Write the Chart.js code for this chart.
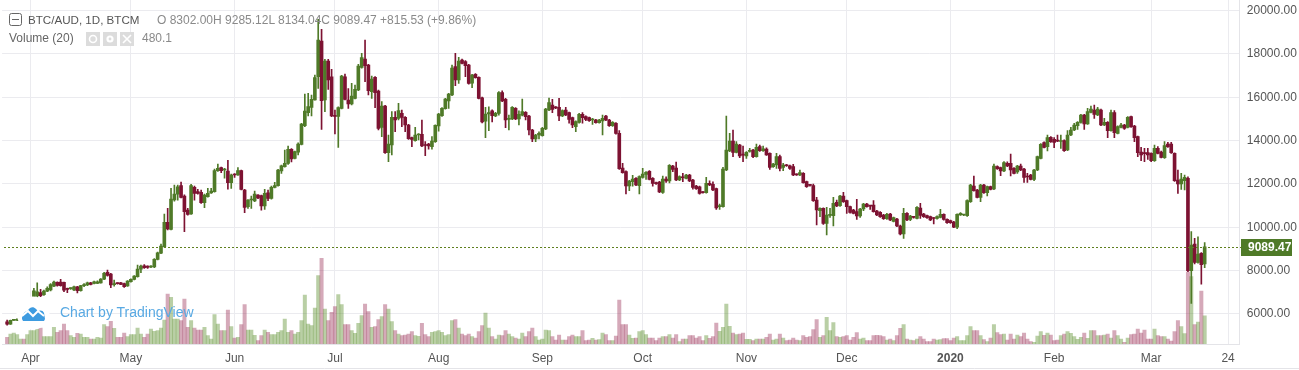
<!DOCTYPE html>
<html><head><meta charset="utf-8">
<script src="https://cdn.jsdelivr.net/npm/chart.js@4"></script>
<style>
html,body{margin:0;padding:0;background:#fff;overflow:hidden}
#wrap{position:relative;width:1299px;height:370px;font-family:"Liberation Sans",Arial,sans-serif;font-size:12px}
canvas{position:absolute;left:0;top:0}
.t{position:absolute;white-space:nowrap;line-height:14px}
</style></head><body>
<div id="wrap"><canvas id="c" width="1299" height="370"></canvas>
<svg style="position:absolute;left:9px;top:13px" width="13" height="13"><rect x="0.5" y="0.5" width="12" height="12" rx="2" fill="#fff" stroke="#666"/><path d="M3 6.5h7" stroke="#666"/></svg>
<div class="t" style="left:28px;top:13px;color:#555;font-size:11.6px">BTC/AUD, 1D, BTCM</div>
<div class="t" style="left:157px;top:13px;color:#8a8a8a" id="ohlc"></div>
<div class="t" style="left:9px;top:31px;color:#666">Volume (20)</div>
<svg style="position:absolute;left:86px;top:32px" width="48" height="14"><g fill="#dcdcdc"><rect width="14" height="14"/><rect x="17" width="14" height="14"/><rect x="34" width="14" height="14"/></g><circle cx="7" cy="7" r="3.5" fill="none" stroke="#fff" stroke-width="1.6"/><circle cx="24" cy="7" r="3.6" fill="#fff"/><circle cx="24" cy="7" r="1.4" fill="#dcdcdc"/><path d="M37 3l8 8M45 3l-8 8" stroke="#fff" stroke-width="1.6"/></svg>
<div class="t" style="left:142px;top:31px;color:#8a8a8a" id="volv"></div>
<svg style="position:absolute;left:16px;top:296px" width="34" height="34"><circle cx="17" cy="17" r="16.5" fill="#fff"/><path d="M6 23c0-4 2-7 5-8l3-3c2-1 4-1 6 1l2 2c2-1 5-1 6 2l1 6-1 2H7z" fill="#3d9be0"/><path d="M6 20l6-5 5 5 5-5 6 5" fill="none" stroke="#fff" stroke-width="2"/></svg>
<div class="t" style="left:60px;top:305px;color:#58a9e3;font-size:14px">Chart by TradingView</div>
</div>
<script>
const firstDay = '2019-03-24';
const dayCount = 370;
const tickDates = ['2019-04-01','2019-05-01','2019-06-01','2019-07-01','2019-08-01','2019-09-01','2019-10-01','2019-11-01','2019-12-01','2020-01-01','2020-02-01','2020-03-01','2020-03-24'];
const tickLabels = ['Apr','May','Jun','Jul','Aug','Sep','Oct','Nov','Dec','2020','Feb','Mar','24'];
const priceTicks = [6000,8000,10000,12000,14000,16000,18000,20000];
const opens = [5634,5526,5695,5700,5740,5800,5780,5830,5870,6820,6975,6880,7050,7100,7280,7450,7460,7450,7170,7160,7100,7250,7065,7300,7330,7430,7400,7400,7430,7600,7920,7830,7350,7400,7430,7400,7290,7480,7590,7710,8065,8210,8200,8160,8160,8515,8800,9100,10220,9900,11255,11530,11920,11440,10790,10610,11840,11640,11610,11130,11410,11580,11640,12610,12750,12640,12595,12056,12440,12410,12610,11717,10947,11255,11210,11486,11455,10980,11590,11330,11840,11920,12600,12795,12950,13596,13180,13460,13827,14690,15290,15530,15875,16950,18600,15875,17677,16950,15167,15120,15490,16950,15875,15690,15950,16340,17380,17770,17490,16260,16920,16290,14612,15598,13442,13795,15074,15028,15260,15074,14720,14135,14000,14257,14290,13795,13842,13720,13950,14675,15150,15475,15830,16105,17415,16800,17723,17650,17490,16650,17060,16920,15980,14900,15230,15380,15137,15260,16214,15906,14980,15000,15490,15000,15170,15305,15136,14489,14073,14258,14230,14540,15413,15644,15536,15536,15136,15413,15290,15059,14643,14843,15213,15105,15059,14950,14950,14828,14905,15136,14950,14690,14800,14335,12733,12564,11902,12100,12256,11918,12300,12440,12580,12256,12025,12087,11610,12225,12133,12826,12733,12179,12290,12256,12410,12179,11900,11870,11610,11600,12025,11980,11780,10947,10950,12640,13519,13980,13457,13796,13340,13290,13500,13565,13257,13719,13534,13611,13411,12795,12872,13257,12764,12872,12840,12795,12440,12410,12487,12102,11933,11917,11255,10762,10870,10177,10546,10531,11147,10993,11440,11224,10947,10793,10716,10516,10839,11070,10978,11024,10747,10685,10562,10393,10608,10269,10377,10054,9684,10639,10362,10454,10408,10885,10608,10531,10485,10408,10400,10454,10593,10362,10300,10238,10007,10563,10563,10531,11178,11902,11717,11378,11948,11594,11871,11763,12795,12749,12595,12949,12949,12718,12549,12826,12687,12333,12410,12210,12641,13180,13904,13719,14150,14058,13980,13960,13996,13565,14258,14489,14690,14843,15182,14766,15305,15413,15182,15413,14720,14843,14458,15290,14335,14612,14720,14612,15105,14674,14181,13473,13411,13442,13411,13072,13642,13473,13211,13842,13842,13411,12179,11994,12148,12256,7990,9222,8375,8791,8302];
const closes = [5526,5695,5700,5740,5800,5780,5830,5870,7065,7020,6835,7050,7175,7345,7470,7310,7300,7095,7130,7170,7250,7065,7300,7330,7430,7360,7480,7480,7600,7870,7770,7330,7400,7395,7360,7250,7510,7590,7740,8065,8200,8130,8140,8200,8515,8820,9130,10220,9915,11300,11530,11870,11380,10716,10590,11917,11560,11560,11130,11486,11560,11670,12610,12720,12610,12640,12056,12410,12410,12610,11748,10916,11255,11280,11530,11350,10980,11560,11330,11840,11920,12640,12830,12950,13596,13150,13490,13840,14766,15367,15567,15906,16907,18647,15840,17677,16800,15136,15120,15520,16984,15906,15690,16060,16368,17446,17830,17460,16306,16845,16214,14566,15598,13442,13842,15074,14950,15382,15074,14720,14088,14057,14257,14290,13750,13775,13750,13980,14700,15228,15490,15921,16150,17353,16800,17677,17570,17460,16645,17030,16907,15950,14860,15228,15290,15150,15260,16214,15830,14951,15000,15536,15000,15213,15336,15105,14489,14073,14258,14335,14566,15459,15752,15444,15510,15136,15382,15182,14982,14720,14874,15213,15059,14982,14920,14950,14828,14950,15028,14950,14690,14843,14335,12703,12518,11902,12133,12225,11948,12333,12456,12533,12210,12025,12010,11625,12225,12133,12857,12672,12179,12333,12285,12410,12133,11840,11780,11561,11600,12025,11948,11717,10885,10950,12687,13565,13980,13457,13842,13288,13330,13457,13520,13257,13690,13534,13620,13334,12764,12918,13257,12718,12872,12840,12718,12410,12420,12518,12056,11871,11930,11224,10793,10870,10177,10562,10550,11101,10978,11440,11178,10947,10685,10639,10516,10839,11070,10947,10970,10716,10562,10485,10393,10593,10331,10439,10054,9684,10639,10331,10516,10450,10916,10546,10485,10439,10331,10400,10485,10593,10362,10208,10208,10007,10593,10639,10570,11224,11948,11686,11378,11948,11594,11871,11748,12826,12703,12595,12980,12826,12641,12487,12826,12641,12302,12320,12210,12641,13257,13827,13688,14135,13950,13919,13975,13985,13534,14258,14489,14720,14843,15182,14766,15336,15459,15213,15459,14720,14843,14458,15290,14366,14643,14720,14566,15074,14643,14135,13442,13334,13400,13334,13072,13642,13411,13226,13765,13719,13442,12148,11994,12225,12302,7990,9176,8375,8760,8273.94,9089.47];
const highs = [5711,5711,5715,5780,5830,5830,5860,5900,7175,7435,7130,7090,7250,7400,7510,7480,7590,7470,7190,7200,7280,7270,7320,7400,7470,7450,7510,7520,7630,7915,8020,7870,7560,7430,7450,7420,7530,7620,7770,8250,8250,8270,8220,8230,8550,8850,9220,10610,10870,11790,11950,11950,12087,11490,10870,11980,11900,11750,11720,11530,11790,11790,12690,12920,12780,12720,13088,12450,12480,12750,12640,11750,11280,11440,11670,11510,11480,11750,11720,11900,12070,12670,12870,13565,13750,13630,13520,13900,14800,16152,16183,16100,17030,19600,19140,17750,17750,17292,15410,15560,17020,17076,16400,16640,16570,17520,18030,18647,17520,16980,16960,16330,15800,15630,14260,15340,15340,15720,15410,15110,14750,14160,14610,14320,14950,13950,13870,14180,14730,15260,15530,15950,16180,17490,18031,17850,17760,17700,17520,17060,17090,16950,16010,15540,15560,15420,15300,16260,16300,15950,15180,15570,15520,15380,15921,15340,15170,14520,14290,14410,14610,15490,15967,15906,15570,15952,15420,15536,15320,15090,14910,15260,15290,15140,15090,15030,14980,14980,15180,15170,14980,14880,14830,14460,12950,12600,12170,12390,12290,12370,12720,12570,12610,12290,12080,12120,12365,12330,12890,12860,13011,12370,12490,12440,12440,12210,11930,11900,11640,12300,12140,12100,11810,11070,12770,15135,14335,14490,13950,13830,13750,13490,13640,13600,13840,13790,13750,13670,13440,12950,13411,13330,12950,12900,12870,12900,12470,12640,12520,12130,11970,11990,11378,10900,10900,10916,10870,11378,11255,11470,11610,11255,10980,10820,11286,10870,11100,11100,11010,11224,10780,10720,10590,10640,10640,10470,10410,10100,10870,10670,10550,10490,10950,11101,10640,10560,10510,10440,10520,10820,10620,10390,10330,10270,10620,10670,10600,11260,11980,12364,11750,11980,11980,11900,11900,12920,12830,12780,13030,13025,13380,12750,12860,12920,12720,12490,12440,12670,13290,13860,13940,14258,14180,14135,14260,14258,14030,14460,14612,14797,14880,15215,15215,15490,15600,15644,15536,15450,15030,14880,15413,15382,14680,14797,14750,15110,15136,14700,14210,13690,13640,13640,13440,13796,13720,13510,13950,13919,13919,13440,12641,12487,12410,12330,9792,9484,9560,8830,9285.12];
const lows = [5480,5510,5690,5680,5720,5760,5760,5800,5860,6760,6790,6850,7020,7060,7250,7280,7280,7020,6980,7130,7070,6970,7040,7250,7300,7330,7380,7390,7410,7580,7740,7205,7280,7370,7340,7220,7270,7460,7570,7690,7900,8100,8100,8130,8130,8490,8780,9080,9870,9880,11200,11250,11350,9790,10560,10590,11250,11530,11100,10900,11390,11560,11620,12580,12520,12260,11760,11790,12300,12390,11720,10670,10870,10870,11180,11320,10790,10820,11225,11300,11810,11900,12480,12770,12900,13020,13150,13335,13800,14640,15135,15135,15870,16414,14520,15335,16368,15100,14304,13688,15460,15880,15490,15650,15920,16310,17350,16720,16106,15950,15520,14490,14180,13410,13026,13335,14410,14950,14640,14410,14060,13720,13970,14030,13720,13300,13600,13600,13920,14440,15120,15450,15490,16080,16540,16640,17540,16950,16610,16440,16880,15920,14820,14135,14460,14860,15100,15180,15800,14597,14489,14970,14970,14720,15140,14950,14258,13950,13950,14073,14200,14510,15380,15290,15470,14920,15100,15150,14800,14597,14410,14810,14800,14920,14890,14750,14800,14800,14258,14920,14660,14660,14300,12670,12490,11532,11690,11900,11920,11532,12270,12210,12180,11900,11980,11600,11560,12070,12050,12560,12150,12150,12100,12230,12100,11760,11750,11530,11570,11570,11920,11690,10820,10820,10920,12610,13490,13260,13430,13210,13030,13180,13470,13210,13230,13500,13500,13310,12672,12760,12720,12595,12610,12810,12670,12380,12390,12380,12030,11840,11900,11190,10100,10485,10130,9638,10450,10054,10950,10960,11150,10639,10650,10610,10362,10450,10760,10920,10820,10690,10530,10450,10360,10360,10300,10240,10020,9638,9484,10300,10300,10420,10380,10408,10450,10410,10300,10146,10370,10430,10330,10180,10180,9980,9930,10540,10530,10500,11150,11660,11350,11178,11560,11440,11720,11730,12670,12380,12560,12800,12364,12460,12487,12610,12070,12070,12180,12150,12610,13150,13660,13520,13920,13670,13950,13640,13500,13530,14230,14460,14520,14810,14520,14750,15280,15030,15150,14690,14690,14135,14430,14135,14310,14580,14520,14580,14610,13950,13257,13072,13030,13134,13030,13040,13380,13200,13180,13690,13410,12120,11563,11748,11717,7950,6481,8300,8340,7374,8134.04];
const volumes = [114,171,188,160,86,86,160,228,228,257,274,125,125,125,285,200,228,342,228,142,114,182,171,114,114,86,86,114,103,331,296,388,268,114,114,188,125,160,160,274,171,114,171,257,217,228,274,410,855,798,427,427,399,770,285,399,274,240,240,285,142,86,502,342,228,228,582,296,103,114,331,672,240,240,150,60,142,239,200,160,160,200,228,427,200,228,171,200,399,838,342,313,616,1169,1465,599,399,542,638,844,673,330,330,228,182,353,485,684,553,285,296,416,467,673,599,382,228,171,142,154,171,211,142,131,353,160,125,200,211,228,200,142,160,399,416,274,171,142,171,125,103,211,314,530,274,125,86,154,142,228,171,125,103,86,188,125,211,274,125,68,86,239,228,125,68,154,68,68,125,154,125,125,228,57,68,97,68,74,188,160,57,57,137,752,330,330,154,97,103,211,228,160,103,103,57,103,125,125,160,103,160,40,86,86,142,142,103,125,57,142,97,125,359,217,285,684,302,188,160,171,188,80,80,57,86,86,86,114,171,68,86,171,103,57,68,103,68,57,142,114,125,245,416,114,142,456,228,365,125,114,125,142,68,114,194,86,103,57,57,142,148,142,125,68,86,57,142,268,330,86,68,57,86,125,86,40,40,86,68,74,91,91,57,103,125,57,57,142,296,228,228,142,74,40,103,330,194,160,171,68,171,86,154,125,188,86,40,28,137,211,148,188,154,57,68,142,171,211,182,125,80,114,188,97,228,228,142,142,154,171,103,228,142,86,28,103,160,171,256,188,239,86,86,256,142,125,125,86,50,211,399,296,180,1228,1154,333,373,903,480.1];

const UP = '#4f7a28', DOWN = '#7d1232', UPV = 'rgba(80,135,30,0.4)', DOWNV = 'rgba(150,40,80,0.4)';
const GRID = '#ebebef';

const days = [];
{ const s = new Date(firstDay + 'T00:00:00Z');
  for (let i = 0; i < dayCount; i++) days.push(new Date(s.getTime() + i * 864e5).toISOString().slice(0, 10)); }
const lead = 1;
const pad = a => { const r = new Array(dayCount).fill(null); a.forEach((v, i) => r[i + lead] = v); return r; };
const isUp = i => { const k = i - lead; return closes[k] >= opens[k]; };
const last = closes.length - 1;

document.getElementById('ohlc').textContent =
  'O ' + opens[last].toFixed(2) + 'H ' + highs[last].toFixed(2) + 'L ' + lows[last].toFixed(2) + 'C ' + closes[last].toFixed(2) +
  ' +' + (closes[last] - closes[last - 1]).toFixed(2) + ' (+9.86%)';
document.getElementById('volv').textContent = volumes[last].toFixed(1);

const overlay = { id: 'overlay', afterDatasetsDraw(ch) {
  const c = ch.ctx, y = Math.round(ch.scales.y.getPixelForValue(closes[last])) + 0.5;
  c.save();
  c.strokeStyle = '#5f7f1e'; c.setLineDash([2, 2]); c.lineWidth = 1;
  c.beginPath(); c.moveTo(4, y); c.lineTo(1241, y); c.stroke(); c.setLineDash([]);
  c.strokeStyle = '#e4e4e8';
  c.beginPath(); c.moveTo(0, 368.5); c.lineTo(1299, 368.5); c.stroke();
  c.fillStyle = UP; c.fillRect(1241, y - 8.5, 51, 17);
  c.fillStyle = '#fff'; c.font = 'bold 12px "Liberation Sans"'; c.textBaseline = 'middle'; c.textAlign = 'left';
  c.fillText(closes[last].toFixed(2), 1248, y + 0.5);
  c.restore();
}};

new Chart(document.getElementById('c'), {
  type: 'bar',
  plugins: [overlay],
  data: { labels: days, datasets: [
    { label: 'Volume', yAxisID: 'v', order: 3, grouped: false, barPercentage: 1, categoryPercentage: 1,
      data: pad(volumes), backgroundColor: c => isUp(c.dataIndex) ? UPV : DOWNV },
    { label: 'Wick', yAxisID: 'y', order: 2, grouped: false, barThickness: 1,
      data: pad(lows.map((l, i) => [l, highs[i]])), backgroundColor: c => isUp(c.dataIndex) ? UP : DOWN },
    { label: 'Body', yAxisID: 'y', order: 1, grouped: false, barThickness: 3, minBarLength: 1,
      data: pad(opens.map((o, i) => [o, closes[i]])), backgroundColor: c => isUp(c.dataIndex) ? UP : DOWN }
  ]},
  options: {
    responsive: false, animation: false, events: [],
    layout: { padding: { left: 2.1, right: 0, top: 0, bottom: 0 } },
    plugins: { legend: { display: false }, tooltip: { enabled: false } },
    scales: {
      x: { type: 'category', offset: true,
        grid: { offset: false, color: GRID, drawTicks: false },
        border: { color: '#e4e4e8' },
        afterBuildTicks: s => { s.ticks = tickDates.map(d => ({ value: days.indexOf(d) })); },
        afterFit: s => { s.height = 26; s.paddingLeft = 0; s.paddingRight = 0; },
        ticks: { autoSkip: false, maxRotation: 0, padding: 7, color: '#555',
          font: c => ({ family: '"Liberation Sans"', size: 12, weight: c.tick && c.tick.label === '2020' ? 'bold' : 'normal' }),
          callback: v => tickLabels[tickDates.indexOf(days[v])] } },
      y: { position: 'right', min: 4605, max: 20494,
        grid: { color: GRID, drawTicks: false },
        border: { color: '#e4e4e8' },
        afterBuildTicks: s => { s.ticks = priceTicks.map(v => ({ value: v })); },
        afterFit: s => { s.width = 59.2; s.paddingTop = 0; s.paddingBottom = 0; },
        ticks: { padding: 7, color: '#555', font: { family: '"Liberation Sans"', size: 12 }, callback: v => v.toFixed(2) } },
      v: { display: false, position: 'left', min: 0, max: 5882, afterFit: s => { s.paddingTop = 0; s.paddingBottom = 0; } }
    }
  }
});
</script>
</body></html>
